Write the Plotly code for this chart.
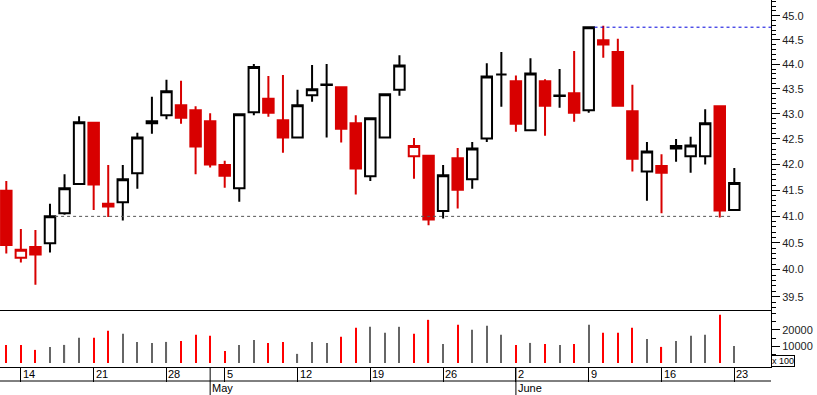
import plotly.graph_objects as go

# ---------------- data ----------------
dates = [
    "2008-04-11",
    "2008-04-14", "2008-04-15", "2008-04-16", "2008-04-17", "2008-04-18",
    "2008-04-21", "2008-04-22", "2008-04-23", "2008-04-24", "2008-04-25",
    "2008-04-28", "2008-04-29", "2008-04-30", "2008-05-02",
    "2008-05-05", "2008-05-06", "2008-05-07", "2008-05-08", "2008-05-09",
    "2008-05-12", "2008-05-13", "2008-05-14", "2008-05-15", "2008-05-16",
    "2008-05-19", "2008-05-20", "2008-05-21", "2008-05-22", "2008-05-23",
    "2008-05-26", "2008-05-27", "2008-05-28", "2008-05-29", "2008-05-30",
    "2008-06-02", "2008-06-03", "2008-06-04", "2008-06-05", "2008-06-06",
    "2008-06-09", "2008-06-10", "2008-06-11", "2008-06-12", "2008-06-13",
    "2008-06-16", "2008-06-17", "2008-06-18", "2008-06-19", "2008-06-20",
    "2008-06-23",
]
opens = [41.49, 40.22, 40.42, 40.49, 41.06, 41.62, 42.82, 41.19, 41.27, 41.83,
         42.81, 42.97, 43.17, 43.07, 42.85, 41.99, 41.54, 43.03, 43.30, 42.87,
         42.53, 43.37, 43.585, 43.53, 42.81, 41.77, 42.53, 43.48, 42.16, 42.17,
         41.10, 42.12, 41.71, 42.51, 43.79, 43.65, 42.67, 43.65, 43.365, 43.41,
         43.07, 44.49, 44.25, 43.05, 41.86, 41.97, 42.36, 42.16, 42.16, 43.15,
         41.12]
highs = [41.68, 40.76, 40.74, 41.24, 41.81, 42.95, 42.83, 41.99, 41.99, 42.62,
         43.34, 43.68, 43.66, 43.15, 43.01, 42.07, 43.00, 44.00, 43.76, 43.78,
         43.48, 43.98, 44.00, 43.54, 42.97, 42.92, 43.40, 44.18, 42.52, 42.18,
         41.99, 42.32, 42.44, 44.02, 44.25, 43.77, 44.12, 43.69, 43.90, 44.27,
         44.76, 44.79, 44.52, 43.58, 42.44, 42.20, 42.50, 42.54, 43.09, 43.16,
         41.93]
lows = [40.30, 40.13, 39.72, 40.32, 41.03, 41.60, 41.12, 40.99, 40.92, 41.53,
        42.60, 42.89, 42.80, 41.81, 41.94, 41.55, 41.28, 42.97, 42.94, 42.23,
        42.52, 43.24, 42.53, 42.43, 41.42, 41.68, 42.52, 43.36, 41.72, 40.83,
        40.96, 41.15, 41.53, 42.44, 43.14, 42.64, 42.66, 42.56, 43.12, 42.84,
        43.02, 44.13, 43.15, 41.86, 41.30, 41.06, 42.05, 41.84, 42.00, 40.98,
        41.10]
closes = [40.46, 40.37, 40.28, 41.00, 41.54, 42.83, 41.61, 41.24, 41.71, 42.53,
          42.85, 43.45, 42.92, 42.35, 42.00, 41.78, 42.99, 43.94, 43.02, 42.53,
          43.17, 43.49, 43.575, 42.70, 41.92, 42.91, 43.39, 43.97, 42.36, 40.94,
          41.79, 41.51, 42.31, 43.75, 43.79, 42.80, 43.81, 43.16, 43.355, 43.02,
          44.76, 44.40, 43.16, 42.11, 42.25, 41.84, 42.31, 42.37, 42.81, 41.11,
          41.64]
volumes = [10900, 10900, 7900, 9700, 10900, 15150, 15150, 19400, 17600, 12700,
           12100, 12700, 13300, 17000, 16400, 7300, 10900, 13900, 12100, 12700,
           5500, 12700, 12100, 15800, 21200, 21800, 18200, 21800, 17600, 26000,
           11500, 23000, 20000, 22400, 17000, 10900, 12100, 11500, 10900, 11500,
           23000, 18200, 18200, 21200, 14500, 9700, 13300, 16400, 17000, 29000,
           10300]

week_tick_dates = ["2008-04-14", "2008-04-21", "2008-04-28", "2008-05-05",
                   "2008-05-12", "2008-05-19", "2008-05-26", "2008-06-02",
                   "2008-06-09", "2008-06-16", "2008-06-23"]
week_tick_labels = ["14", "21", "28", "5", "12", "19", "26", "2", "9", "16", "23"]
month_start_dates = ["2008-05-02", "2008-06-02"]
month_labels = ["May", "June"]

price_ticks = [39.5, 40.0, 40.5, 41.0, 41.5, 42.0, 42.5, 43.0, 43.5, 44.0, 44.5, 45.0]
volume_ticks = [10000, 20000]
volume_minor_ticks = [5000, 15000, 25000, 30000]
volume_unit_label = "x 100"

support_level = 41.0
resistance_level = 44.76

# ---------------- styling ----------------
RED = "#d80000"
BLACK = "#000000"
VOL_RED = "#ff0000"
VOL_GRAY = "#666666"
FONT = "Liberation Sans, Arial, sans-serif"

n = len(dates)
is_red = [i == 0 or closes[i] < closes[i - 1] for i in range(n)]


def subset(flag):
    idx = [i for i in range(n) if is_red[i] == flag]
    return ([dates[i] for i in idx], [opens[i] for i in idx], [highs[i] for i in idx],
            [lows[i] for i in idx], [closes[i] for i in idx])


fig = go.Figure()

for flag, col in [(False, BLACK), (True, RED)]:
    x, o, h, l, c = subset(flag)
    fig.add_trace(go.Candlestick(
        x=x, open=o, high=h, low=l, close=c,
        xaxis="x", yaxis="y",
        increasing=dict(line=dict(color=col, width=2), fillcolor="white"),
        decreasing=dict(line=dict(color=col, width=2), fillcolor=col),
        whiskerwidth=0, showlegend=False, hoverinfo="skip",
    ))

fig.add_trace(go.Bar(
    x=dates, y=volumes, xaxis="x2", yaxis="y2",
    marker=dict(color=[VOL_RED if r else VOL_GRAY for r in is_red], line=dict(width=0)),
    width=0.08, showlegend=False, hoverinfo="skip",
))

x_range = [-0.433, 52.52]
price_domain_bottom = 56 / 367

minor_price = [round(39.3 + 0.1 * k, 1) for k in range(61)]
minor_price = [v for v in minor_price if v not in price_ticks]

fig.update_layout(
    width=817, height=395,
    margin=dict(l=0, r=46, t=0, b=28, pad=0),
    paper_bgcolor="white", plot_bgcolor="white",
    showlegend=False,
    boxgap=0.28, boxgroupgap=0,
    font=dict(family=FONT, size=11, color="#000"),
    xaxis=dict(
        domain=[0, 1], anchor="y", type="category",
        categoryorder="array", categoryarray=dates,
        range=x_range, showticklabels=False, ticks="", showline=False,
        showgrid=False, zeroline=False, rangeslider=dict(visible=False),
    ),
    yaxis=dict(
        domain=[price_domain_bottom, 1], anchor="x", type="log",
        range=[1.59372, 1.65637], side="right",
        showline=True, linecolor="black", linewidth=1,
        ticks="outside", ticklen=8, tickcolor="black", tickwidth=1,
        tickmode="array", tickvals=price_ticks, tickformat=".1f",
        minor=dict(tickmode="array", tickvals=minor_price, ticks="outside",
                   ticklen=4, tickcolor="black", tickwidth=1, showgrid=False),
        showgrid=False, zeroline=False,
        tickfont=dict(family=FONT, size=11, color="#222"),
    ),
    xaxis2=dict(
        domain=[0, 1], anchor="y2", type="category",
        categoryorder="array", categoryarray=dates,
        range=x_range, showticklabels=False,
        showline=True, mirror=True, linecolor="black", linewidth=1,
        ticks="outside", ticklen=14, tickcolor="black", tickwidth=1,
        tickmode="array", tickvals=week_tick_dates,
        showgrid=False, zeroline=False,
    ),
    yaxis2=dict(
        domain=[0, price_domain_bottom], anchor="x2",
        range=[-2410, 31325], side="right",
        showline=True, linecolor="black", linewidth=1,
        ticks="outside", ticklen=8, tickcolor="black", tickwidth=1,
        tickmode="array", tickvals=volume_ticks, tickformat="d",
        minor=dict(tickmode="array", tickvals=volume_minor_ticks, ticks="outside",
                   ticklen=4, tickcolor="black", tickwidth=1, showgrid=False),
        showgrid=False, zeroline=False,
        tickfont=dict(family=FONT, size=11, color="#222"),
    ),
)

shapes = []
row_y = -14 / 367
bottom_y = -28 / 367
shapes.append(dict(type="line", xref="paper", yref="paper", x0=0, x1=1,
                   y0=row_y, y1=row_y, line=dict(color="black", width=1)))
for d in month_start_dates:
    i = dates.index(d)
    shapes.append(dict(type="line", xref="x2", yref="paper", x0=i, x1=i,
                       y0=0, y1=bottom_y, line=dict(color="black", width=1)))
shapes.append(dict(type="line", xref="x", yref="y", x0=3.35, x1=49.85,
                   y0=support_level, y1=support_level,
                   line=dict(color="#555555", width=1, dash="3px,3px")))
shapes.append(dict(type="line", xref="x", yref="y", x0=40.4, x1=x_range[1],
                   y0=resistance_level, y1=resistance_level,
                   line=dict(color="#0000dd", width=1, dash="3px,3px")))
fig.update_layout(shapes=shapes)

annotations = []
for d, lab in zip(week_tick_dates, week_tick_labels):
    annotations.append(dict(xref="x2", yref="paper", x=dates.index(d), y=-7 / 367,
                            text=lab, showarrow=False, xanchor="left", yanchor="middle",
                            xshift=0, font=dict(family=FONT, size=11, color="black")))
for d, lab in zip(month_start_dates, month_labels):
    annotations.append(dict(xref="x2", yref="paper", x=dates.index(d), y=-21 / 367,
                            text=lab, showarrow=False, xanchor="left", yanchor="middle",
                            xshift=0, font=dict(family=FONT, size=11, color="black")))
annotations.append(dict(xref="paper", yref="paper", x=1, y=0, text=volume_unit_label,
                        showarrow=False, xanchor="left", yanchor="bottom",
                        xshift=0, yshift=0, borderpad=0, bordercolor="black",
                        borderwidth=1, bgcolor="white",
                        font=dict(family=FONT, size=9, color="black")))
fig.update_layout(annotations=annotations)

fig.write_html(
    "out.html",
    config={"displayModeBar": False},
    post_script="document.body.style.margin='0';document.body.style.padding='0';"
                "document.documentElement.style.overflow='hidden';",
)
